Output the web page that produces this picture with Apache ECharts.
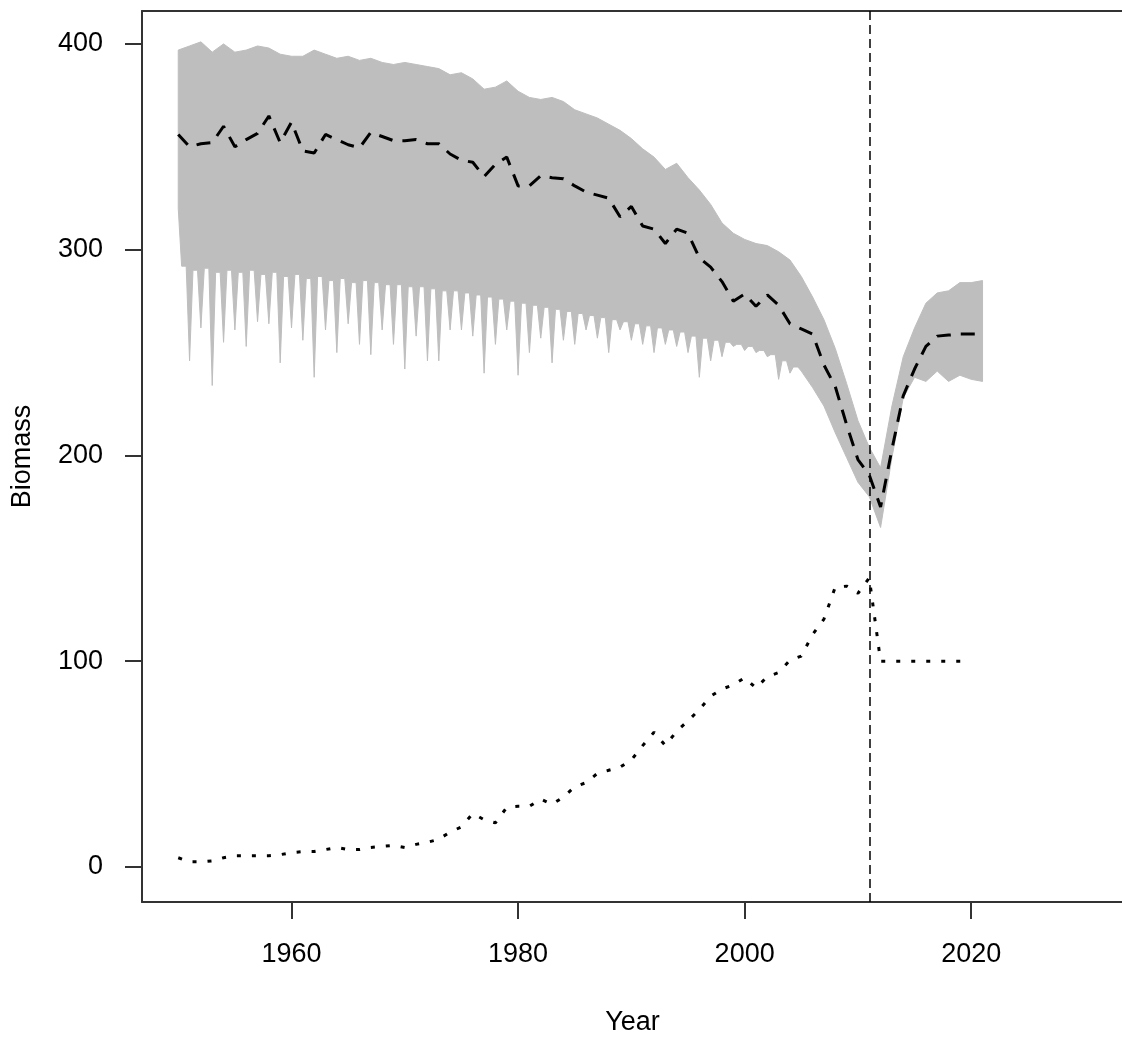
<!DOCTYPE html>
<html><head><meta charset="utf-8">
<script src="https://cdn.jsdelivr.net/npm/echarts@6/dist/echarts.min.js"></script>
<style>html,body{margin:0;padding:0;background:#fff}#c{width:1122px;height:1039px}</style>
</head><body><div id="c"></div>
<script>
// Years of the simulation (1950-2021)
const years = [1950,1951,1952,1953,1954,1955,1956,1957,1958,1959,
  1960,1961,1962,1963,1964,1965,1966,1967,1968,1969,
  1970,1971,1972,1973,1974,1975,1976,1977,1978,1979,
  1980,1981,1982,1983,1984,1985,1986,1987,1988,1989,
  1990,1991,1992,1993,1994,1995,1996,1997,1998,1999,
  2000,2001,2002,2003,2004,2005,2006,2007,2008,2009,
  2010,2011,2012,2013,2014,2015,2016,2017,2018,2019,
  2020,2021];

// Median biomass (black dashed line)
const medianBiomass = [356,350,351.5,352,360,350,353.5,356.5,365,352,
  362,348,347,356,353.5,351,349.5,357,355,353,
  353,353.5,351.5,351.5,346.5,343.5,342.5,335.5,341.5,345,
  331,331,336,335,334.5,331,328,326.5,325,316,
  321,311.5,310,303,310,308,296,291.5,284.5,275,
  278.5,272.5,278,273,264,261.5,259,244,233.5,215,
  198,190.5,175,203,229,242,253,258,258.5,259,
  259,259];

// Grey simulation envelope: upper edge per year
const upperBiomass = [397,399,401,396,400,396,397,399,398,395,
  394,394,397,395,393,394,392,393,391,390,
  391,390,389,388,385,386,383,378,379,382,
  377,374,373,374,372,368,366,364,361,358,
  354,349,345,339,342,335,329,322,313,308,
  305,303,302,299,295,287,277,266,252,235,
  217,204,194,224,248,262,274,279,280,284,
  284,285];

// Grey envelope: deepest downward spike per year
const lowerSpike = [320,246,262,234,255,261,253,265,264,245,
  262,256,238,261,250,264,254,249,261,254,
  242,258,246,246,261,261,258,240,254,261,
  239,250,257,245,256,254,261,257,250,261,
  256,254,250,254,253,250,238,246,248,253,
  251,250,248,237,240,241,233,224,211,199,
  187,180,165,199,228,238,236,241,236,239,
  237,236];

// Grey envelope: lower edge of the dense core between years (1950-51 ... 2020-21);
// null where the lower edge is smooth (no fringe of spikes)
const lowerCore = [292,290,291,289,290,289,290,288,289,287,
  288,286,287,285,286,284,285,284,283,283,
  282,282,281,280,280,279,278,277,276,275,
  274,273,272,271,270,269,268,267,266,265,
  264,263,262,261,260,258,257,256,255,254,
  253,251,249,246,243,null,null,null,null,null,
  null,null,null,null,null,null,null,null,null,null,null];

// Catch (black dotted line), 1950-2020
const catchValues = [4.5,2.5,2.5,3,4.5,5.5,5.5,5.5,5.5,6,
  7,7.5,7.5,8.5,9.5,8.5,8.5,9.5,10,10.5,
  9.5,11,12,13.5,17,19.5,26,23,21.5,29,
  29.5,29.5,33,30.5,34,39,41,45.5,47,48.5,
  52,59,65.5,59,66,71,76.5,83,86.5,88.5,
  92,87,92.5,94.5,100.5,102.5,113,120.5,136,136.5,
  133,140.5,100,100,100,100,100,100,100,100,100];

const xTicks = [1960,1980,2000,2020];
const yTicks = [0,100,200,300,400];
const refYear = 2011;

const FONT = "'Liberation Sans', Arial, Helvetica, sans-serif";
const AX = '#333';

const medianData = years.map((y,i)=>[y, medianBiomass[i]]);
const catchData = catchValues.map((v,i)=>[years[i], v]);

const chart = echarts.init(document.getElementById('c'), null, {renderer:'canvas'});
chart.setOption({
  animation:false,
  backgroundColor:'#fff',
  grid:{left:142, top:11, width:981, height:891, containLabel:false, outerBoundsMode:'none'},
  xAxis:[{
    type:'value', min:1946.8, max:2033.4, position:'bottom',
    axisLine:{show:true, onZero:false, lineStyle:{color:AX, width:2}},
    axisTick:{show:true, inside:false, length:17, customValues:xTicks, lineStyle:{color:AX, width:2}},
    axisLabel:{show:true, customValues:xTicks, margin:39, fontSize:27, color:'#000', fontFamily:FONT, formatter:v=>String(v)},
    splitLine:{show:false},
    name:'Year', nameLocation:'middle', nameGap:107,
    nameTextStyle:{fontSize:27, color:'#000', fontFamily:FONT}
  },{
    type:'value', min:1946.8, max:2033.4, position:'top',
    axisLine:{show:true, onZero:false, lineStyle:{color:AX, width:2}},
    axisTick:{show:false}, axisLabel:{show:false}, splitLine:{show:false}
  }],
  yAxis:{
    type:'value', min:-17, max:416,
    axisLine:{show:true, onZero:false, lineStyle:{color:AX, width:2}},
    axisTick:{show:true, inside:false, length:17, customValues:yTicks, lineStyle:{color:AX, width:2}},
    axisLabel:{show:true, customValues:yTicks, margin:39, fontSize:27, color:'#000', fontFamily:FONT, formatter:v=>String(v)},
    splitLine:{show:false},
    name:'Biomass', nameLocation:'middle', nameGap:106, nameRotate:90,
    nameTextStyle:{fontSize:27, color:'#000', fontFamily:FONT}
  },
  series:[{
    type:'custom', name:'envelope', xAxisIndex:0, yAxisIndex:0, silent:true, z:1,
    data:[[years[0], upperBiomass[0]]],
    renderItem:function(params, api){
      const pts = [];
      for(let i=0;i<years.length;i++) pts.push(api.coord([years[i], upperBiomass[i]]));
      for(let i=years.length-1;i>=0;i--){
        pts.push(api.coord([years[i], lowerSpike[i]]));
        if(i>0 && lowerCore[i-1] != null){
          pts.push(api.coord([years[i-1]+0.7, lowerCore[i-1]]));
          pts.push(api.coord([years[i-1]+0.3, lowerCore[i-1]]));
        }
      }
      return {type:'polygon', shape:{points:pts}, style:{fill:'#BEBEBE', stroke:'#BEBEBE', lineWidth:1}};
    }
  },{
    type:'line', name:'median', data:medianData, symbol:'none', showSymbol:false, silent:true, z:3,
    lineStyle:{color:'#000', width:3, type:[14,10], cap:'butt'}
  },{
    type:'line', name:'catch', data:catchData, symbol:'none', showSymbol:false, silent:true, z:3,
    lineStyle:{color:'#000', width:3, type:[4,11], cap:'butt'},
    markLine:{silent:true, symbol:['none','none'], label:{show:false}, animation:false,
      lineStyle:{color:'#000', width:1.5, type:[9,5]},
      emphasis:{disabled:true},
      data:[{xAxis:refYear}]}
  }]
});
</script></body></html>
